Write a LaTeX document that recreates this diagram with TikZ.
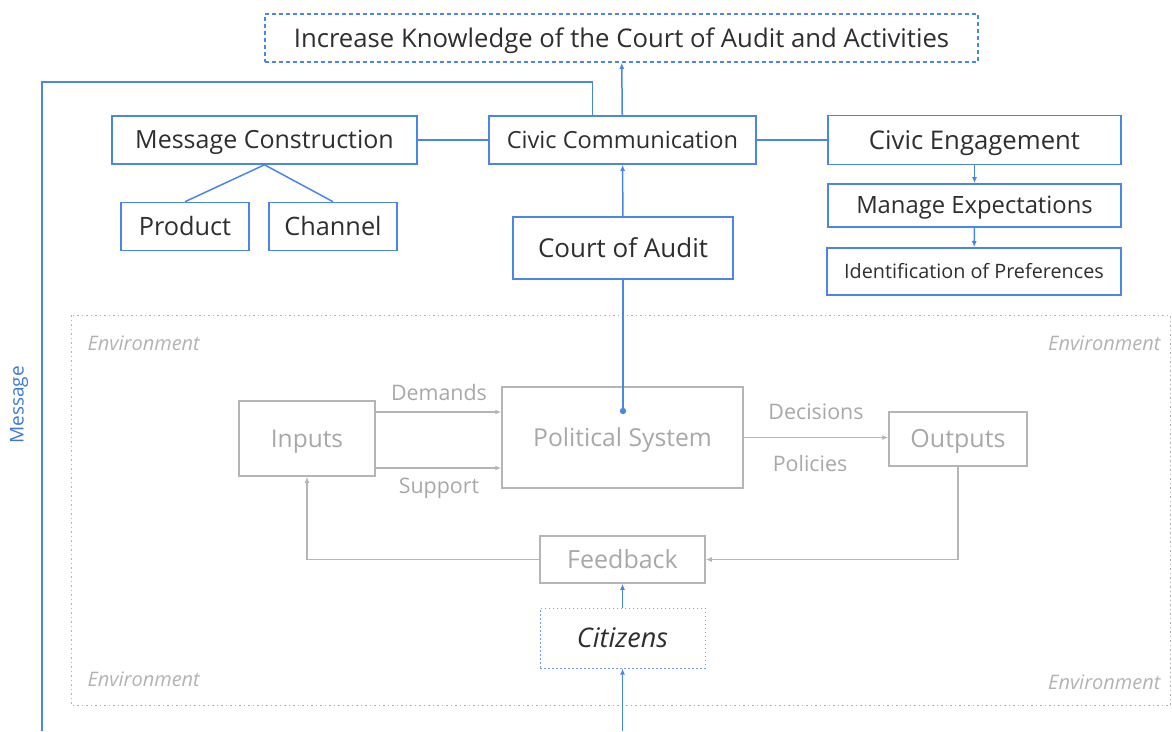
\documentclass[tikz,border=0pt]{standalone}
\usepackage{fontspec}
\setmainfont{Open Sans}
\usepackage{tikz}
\usetikzlibrary{arrows.meta, positioning}
\usepackage{color}

\definecolor{civblue}{HTML}{4A86E8}
\definecolor{msgblue}{HTML}{3C78D8}
\definecolor{sysgray}{HTML}{B5B5B5}
\definecolor{labgray}{HTML}{A8A8A8}
\definecolor{envgray}{HTML}{B3B3B3}
\definecolor{inkgray}{HTML}{2E2E2E}

\newcommand{\fsz}[1]{\fontsize{#1}{#1}\selectfont}

\begin{document}
\begin{tikzpicture}[x=1pt, y=-1pt,
  fs/.style={font=\fsz{#1}, text height=\fpeval{0.71*#1}pt, text depth=0pt},
  bluebox/.style={draw=civblue, line width=1.6pt, text=inkgray, inner sep=0pt},
  graybox/.style={draw=sysgray, line width=1.5pt, text=labgray, inner sep=0pt},
  blueline/.style={draw=civblue, line width=1.5pt},
  grayline/.style={draw=sysgray, line width=1.3pt},
  tip/.style={-{Latex[length=6pt, width=5pt]}},
  envlabel/.style={text=envgray, fs=20, font=\fsz{20}\itshape},
  flowlabel/.style={text=labgray, fs=21.4}]
\useasboundingbox (0,0) rectangle (1172,731);

% environment frame
\draw [envgray, line width=1pt, dash pattern=on 1.5pt off 3pt] (71,315) rectangle (1170,705);
\node [envlabel, anchor=west] (envtl) at (84,343) {Environment};
\node [envlabel, anchor=west] (envbl) at (84,679) {Environment};
\node [envlabel, anchor=east] (envtr) at (1164,343) {Environment};
\node [envlabel, anchor=east] (envbr) at (1164,682) {Environment};

% communication part
\node [bluebox, dash pattern=on 4pt off 3pt, minimum width=713, minimum height=48, fs=25.7] (goal) at (621.5,38) {Increase Knowledge of the Court of Audit and Activities};
\node [bluebox, minimum width=305, minimum height=48, fs=25] (msg) at (264.5,140) {Message Construction};
\node [bluebox, minimum width=267, minimum height=48, fs=23.6] (civcom) at (622.5,140) {Civic Communication};
\node [bluebox, minimum width=293, minimum height=49, fs=25.7] (civeng) at (974.5,140) {Civic Engagement};
\node [bluebox, minimum width=293, minimum height=43, fs=23.8] (manexp) at (974.5,205.5) {Manage Expectations};
\node [bluebox, minimum width=294, minimum height=47, fs=19.8] (ident) at (974,271.5) {Identification of Preferences};
\node [bluebox, minimum width=128, minimum height=48, fs=25.3] (product) at (185,226.5) {Product};
\node [bluebox, minimum width=128, minimum height=48, fs=25.3] (channel) at (333,226.5) {Channel};
\node [bluebox, minimum width=220, minimum height=62, fs=26] (court) at (623,248) {Court of Audit};

% political system
\node [graybox, minimum width=136, minimum height=75, fs=24.5] (inputs) at (307,438.5) {Inputs};
\node [graybox, minimum width=241, minimum height=101, fs=24.7] (polsys) at (622.5,437.5) {Political System};
\node [graybox, minimum width=138, minimum height=54, fs=25] (outputs) at (958,439) {Outputs};
\node [graybox, minimum width=165, minimum height=47, fs=25] (feedback) at (622.5,559.5) {Feedback};
\node [bluebox, draw=civblue!80, line width=1pt, dash pattern=on 1.5pt off 2.5pt, minimum width=165, minimum height=60, fs=27, font=\fsz{27}\itshape] (citizens) at (622.5,638) {Citizens};

\node [flowlabel] (demands) at (439,393) {Demands};
\node [flowlabel] (support) at (439,486) {Support};
\node [flowlabel] (decisions) at (816,412) {Decisions};
\node [flowlabel] (policies) at (810,464) {Policies};

\node [text=msgblue, fs=19, rotate=90] (msglabel) at (17,405) {Message};

\coordinate (sysdot) at (623,411);
\coordinate (msgfoot) at (42,731);
\coordinate (citfoot) at (622.5,731);

% blue connectors
\draw [blueline] (msg) -- (civcom);
\draw [blueline] (civcom) -- (civeng);
\draw [blueline] (msg.south) -- (product.north);
\draw [blueline] (msg.south) -- (channel.north);
\draw [blueline, tip] (civcom) -- (goal);
\draw [blueline, tip] (court) -- (civcom);
\draw [blueline, tip] (civeng) -- (manexp);
\draw [blueline, tip] (manexp) -- (ident);
\draw [blueline] (court.south) -- (sysdot);
\fill [civblue] (sysdot) circle (3.2);
\draw [blueline, tip] (citizens) -- (feedback);
\draw [blueline, tip] (citfoot) -- (citizens.south);
\draw [blueline] (msgfoot) -- (42,82) -| ([xshift=-30pt]civcom.north);

% gray connectors
\draw [grayline, tip] ([yshift=26.5pt]inputs.east) -- ([yshift=26.5pt]inputs.east -| polsys.west);
\draw [grayline, tip] ([yshift=-29.5pt]inputs.east) -- ([yshift=-29.5pt]inputs.east -| polsys.west);
\draw [grayline, tip] (polsys.east) -- (polsys.east -| outputs.west);
\draw [grayline, tip] (outputs.south) |- (feedback.east);
\draw [grayline, tip] (feedback.west) -| (inputs.south);
\end{tikzpicture}
\end{document}
